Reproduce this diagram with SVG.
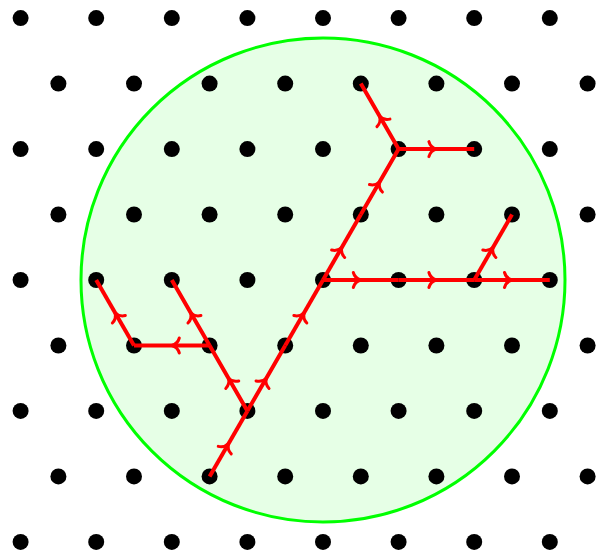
<svg xmlns="http://www.w3.org/2000/svg" width="605" height="554" viewBox="0 0 605 554">
<style>
.bg{fill:#ffffff}
.disk{fill:#e6ffe6;stroke:#00ff00;stroke-width:3}
.dot{fill:#000000}
.edge{fill:none;stroke:#ff0000;stroke-width:4;marker-mid:url(#tip)}
.chev{fill:none;stroke:#ff0000;stroke-width:3;stroke-linecap:round;stroke-linejoin:round}
</style>
<defs>
<marker id="tip" markerUnits="userSpaceOnUse" markerWidth="24" markerHeight="24" viewBox="-12 -12 24 24" refX="0" refY="0" orient="auto" overflow="visible">
<path class="chev" d="M -7.5,-7.5 C -6.5,-3.8 -3.2,-0.9 0,0 C -3.2,0.9 -6.5,3.8 -7.5,7.5"/>
</marker>
<circle id="d" r="8"/>
</defs>
<rect class="bg" x="0" y="0" width="605" height="554"/>
<g id="region">
<circle class="disk" cx="323" cy="280" r="242"/>
</g>
<g id="lattice" class="dot">
<use href="#d" x="20.6" y="18.1"/><use href="#d" x="96.2" y="18.1"/><use href="#d" x="171.8" y="18.1"/><use href="#d" x="247.4" y="18.1"/><use href="#d" x="323" y="18.1"/><use href="#d" x="398.6" y="18.1"/><use href="#d" x="474.2" y="18.1"/><use href="#d" x="549.8" y="18.1"/>
<use href="#d" x="58.4" y="83.6"/><use href="#d" x="134" y="83.6"/><use href="#d" x="209.6" y="83.6"/><use href="#d" x="285.2" y="83.6"/><use href="#d" x="360.8" y="83.6"/><use href="#d" x="436.4" y="83.6"/><use href="#d" x="512" y="83.6"/><use href="#d" x="587.6" y="83.6"/>
<use href="#d" x="20.6" y="149.1"/><use href="#d" x="96.2" y="149.1"/><use href="#d" x="171.8" y="149.1"/><use href="#d" x="247.4" y="149.1"/><use href="#d" x="323" y="149.1"/><use href="#d" x="398.6" y="149.1"/><use href="#d" x="474.2" y="149.1"/><use href="#d" x="549.8" y="149.1"/>
<use href="#d" x="58.4" y="214.5"/><use href="#d" x="134" y="214.5"/><use href="#d" x="209.6" y="214.5"/><use href="#d" x="285.2" y="214.5"/><use href="#d" x="360.8" y="214.5"/><use href="#d" x="436.4" y="214.5"/><use href="#d" x="512" y="214.5"/><use href="#d" x="587.6" y="214.5"/>
<use href="#d" x="20.6" y="280"/><use href="#d" x="96.2" y="280"/><use href="#d" x="171.8" y="280"/><use href="#d" x="247.4" y="280"/><use href="#d" x="323" y="280"/><use href="#d" x="398.6" y="280"/><use href="#d" x="474.2" y="280"/><use href="#d" x="549.8" y="280"/>
<use href="#d" x="58.4" y="345.5"/><use href="#d" x="134" y="345.5"/><use href="#d" x="209.6" y="345.5"/><use href="#d" x="285.2" y="345.5"/><use href="#d" x="360.8" y="345.5"/><use href="#d" x="436.4" y="345.5"/><use href="#d" x="512" y="345.5"/><use href="#d" x="587.6" y="345.5"/>
<use href="#d" x="20.6" y="410.9"/><use href="#d" x="96.2" y="410.9"/><use href="#d" x="171.8" y="410.9"/><use href="#d" x="247.4" y="410.9"/><use href="#d" x="323" y="410.9"/><use href="#d" x="398.6" y="410.9"/><use href="#d" x="474.2" y="410.9"/><use href="#d" x="549.8" y="410.9"/>
<use href="#d" x="58.4" y="476.4"/><use href="#d" x="134" y="476.4"/><use href="#d" x="209.6" y="476.4"/><use href="#d" x="285.2" y="476.4"/><use href="#d" x="360.8" y="476.4"/><use href="#d" x="436.4" y="476.4"/><use href="#d" x="512" y="476.4"/><use href="#d" x="587.6" y="476.4"/>
<use href="#d" x="20.6" y="541.9"/><use href="#d" x="96.2" y="541.9"/><use href="#d" x="171.8" y="541.9"/><use href="#d" x="247.4" y="541.9"/><use href="#d" x="323" y="541.9"/><use href="#d" x="398.6" y="541.9"/><use href="#d" x="474.2" y="541.9"/><use href="#d" x="549.8" y="541.9"/>
</g>
<g id="connectors">
<path class="edge" d="M209.6,476.4 L228.5,443.65 L247.4,410.9"/>
<path class="edge" d="M247.4,410.9 L266.3,378.2 L285.2,345.5"/>
<path class="edge" d="M285.2,345.5 L304.1,312.75 L323,280"/>
<path class="edge" d="M323,280 L341.9,247.25 L360.8,214.5"/>
<path class="edge" d="M360.8,214.5 L379.7,181.8 L398.6,149.1"/>
<path class="edge" d="M398.6,149.1 L379.7,116.35 L360.8,83.6"/>
<path class="edge" d="M398.6,149.1 L436.4,149.1 L474.2,149.1"/>
<path class="edge" d="M323,280 L360.8,280 L398.6,280"/>
<path class="edge" d="M398.6,280 L436.4,280 L474.2,280"/>
<path class="edge" d="M474.2,280 L512,280 L549.8,280"/>
<path class="edge" d="M474.2,280 L493.1,247.25 L512,214.5"/>
<path class="edge" d="M247.4,410.9 L228.5,378.2 L209.6,345.5"/>
<path class="edge" d="M209.6,345.5 L190.7,312.75 L171.8,280"/>
<path class="edge" d="M209.6,345.5 L171.8,345.5 L134,345.5"/>
<path class="edge" d="M134,345.5 L115.1,312.75 L96.2,280"/>
</g>
</svg>
